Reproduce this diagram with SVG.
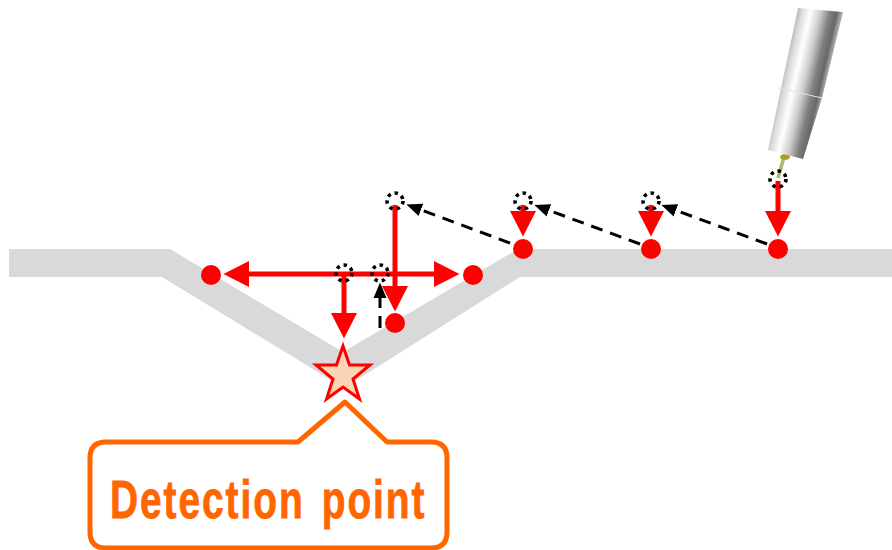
<svg xmlns="http://www.w3.org/2000/svg" width="892" height="550" viewBox="0 0 892 550">
<style>
.dot{fill:#ff0000}
.ghost{fill:none;stroke:#000;stroke-width:3.6;stroke-dasharray:3.4 4}
.red{fill:none;stroke:#ff0000;stroke-width:5;marker-end:url(#redHead)}
.dash{fill:none;stroke:#000;stroke-width:3;stroke-dasharray:12 8;marker-end:url(#blackHead)}
</style>
<defs>
<marker id="redHead" markerUnits="userSpaceOnUse" markerWidth="26" markerHeight="27" refX="1" refY="13.5" orient="auto"><path d="M0,0.5 L25.5,13.500 L0,26.500 Z" fill="#ff0000"/></marker>
<marker id="blackHead" markerUnits="userSpaceOnUse" markerWidth="16" markerHeight="14" refX="1" refY="7" orient="auto"><path d="M0,0.5 L15.500,7 L0,13.500 Z" fill="#000"/></marker>
<linearGradient id="metal" gradientUnits="userSpaceOnUse" x1="778" y1="88" x2="822" y2="98">
<stop offset="0" stop-color="#b0b0b0"/><stop offset="0.15" stop-color="#dcdcdc"/><stop offset="0.33" stop-color="#ffffff"/><stop offset="0.55" stop-color="#cccccc"/><stop offset="0.75" stop-color="#808080"/><stop offset="0.9" stop-color="#686868"/><stop offset="1" stop-color="#a8a8a8"/>
</linearGradient>
</defs>
<g id="workpiece"><path d="M9,249 H170 L343,352 L518,249 H892 V277 H520 L344,388 L162,277 H9 Z" fill="#d9d9d9"/></g>
<g id="probe">
<path d="M784,157 L778,178" fill="none" stroke="#b5b56a" stroke-width="3.5"/>
<ellipse cx="785" cy="157" rx="5" ry="3" fill="#a8a020"/>
<path d="M798,8 L843,12 L822,98 L803,159 L768,150 Z" fill="url(#metal)"/>
<path d="M778,88 L822,98" fill="none" stroke="#e4e4e4" stroke-width="1"/>
</g>
<g id="connectors">
<path class="dash" d="M510,243 L420,209.500"/>
<path class="dash" d="M640,244 L548,210"/>
<path class="dash" d="M767,244 L675,210"/>
<path class="dash" d="M380,328 L380,297" stroke-dasharray="1.500 8.500 22"/>
<path class="red" d="M778,181 V212"/>
<path class="red" d="M651,205 V212"/>
<path class="red" d="M523,205 V212"/>
<path class="red" d="M395,205 V287"/>
<path class="red" d="M344,274 V314"/>
<path class="red" d="M344,274 H248"/>
<path class="red" d="M344,274 H435"/>
</g>
<g id="p1"><circle class="dot" cx="778" cy="249" r="10"/></g>
<g id="p2"><circle class="dot" cx="651" cy="249" r="10"/></g>
<g id="p3"><circle class="dot" cx="523" cy="249" r="10"/></g>
<g id="p4"><circle class="dot" cx="395" cy="323" r="10"/></g>
<g id="p5"><circle class="dot" cx="473" cy="275" r="10"/></g>
<g id="p6"><circle class="dot" cx="211" cy="275" r="10"/></g>
<g id="g1"><circle class="ghost" cx="778" cy="179" r="8"/></g>
<g id="g2"><circle class="ghost" cx="651" cy="201" r="8"/></g>
<g id="g3"><circle class="ghost" cx="523" cy="201" r="8"/></g>
<g id="g4"><circle class="ghost" cx="395" cy="201" r="8"/></g>
<g id="g5"><circle class="ghost" cx="380" cy="273" r="8"/></g>
<g id="g6"><circle class="ghost" cx="344" cy="273" r="8"/></g>
<g id="star"><path d="M343,346 L349.500,365 L370,365 L353,379 L359.500,399 L343,387 L326.500,399 L333,379 L316,365 L336.500,365 Z" fill="#fbd5b5" stroke="#ff0000" stroke-width="3"/></g>
<g id="callout">
<path d="M106,442 H298 L345,402 L387,442 H431 Q447,442 447,458 V532 Q447,548 431,548 H106 Q90,548 90,532 V458 Q90,442 106,442 Z" fill="#fff" stroke="#ff6600" stroke-width="5" stroke-linejoin="round"/>
<text transform="translate(110,518) scale(0.72,1)" font-family="'Liberation Sans',Arial,sans-serif" font-weight="700" font-size="54" letter-spacing="2.700" word-spacing="6" fill="#ff6600" stroke="#ff6600" stroke-width="0.800">Detection point</text>
</g>
</svg>
